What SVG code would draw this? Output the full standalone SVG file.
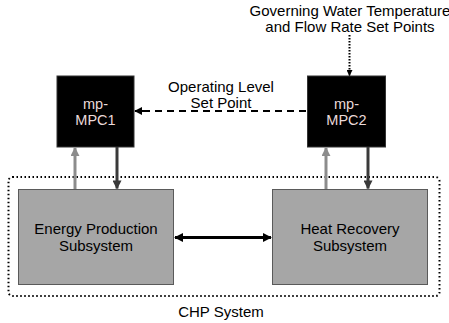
<svg xmlns="http://www.w3.org/2000/svg" width="449" height="323" viewBox="0 0 449 323">
  <style>
    text { font-family: "Liberation Sans", Arial, sans-serif; font-size: 15px; text-anchor: middle; }
    .lbl { fill: #000; }
    .ctl { fill: #000; stroke: #333; stroke-width: 1; }
    .ctl-text { fill: #eadada; font-size: 14.5px; }
    .sub { fill: #a6a6a6; stroke: #5a5a5a; stroke-width: 1; }
    .fb { stroke: #8c8c8c; stroke-width: 3; fill: none; }
    .act { stroke: #3a3a3a; stroke-width: 3; fill: none; }
  </style>
  <defs>
    <marker id="headGray" viewBox="0 0 10 10" refX="9" refY="5" markerWidth="3" markerHeight="3" orient="auto" markerUnits="strokeWidth">
      <path d="M0,0 L10,5 L0,10 Z" fill="#8c8c8c"/>
    </marker>
    <marker id="headDark" viewBox="0 0 10 10" refX="9" refY="5" markerWidth="3" markerHeight="3" orient="auto" markerUnits="strokeWidth">
      <path d="M0,0 L10,5 L0,10 Z" fill="#3a3a3a"/>
    </marker>
    <marker id="headBlack" viewBox="0 0 10 10" refX="9" refY="5" markerWidth="3.2" markerHeight="3" orient="auto-start-reverse" markerUnits="strokeWidth">
      <path d="M0,0 L10,5 L0,10 Z" fill="#000"/>
    </marker>
    <marker id="headSmall" viewBox="0 0 10 10" refX="9" refY="5" markerWidth="4" markerHeight="4" orient="auto" markerUnits="strokeWidth">
      <path d="M0,0 L10,5 L0,10 Z" fill="#000"/>
    </marker>
  </defs>

  <!-- CHP system boundary -->
  <g id="chp-system">
    <rect x="8.5" y="177" width="431" height="119" rx="4" fill="none" stroke="#000" stroke-width="2" stroke-dasharray="1.5 2.5"/>
    <text class="lbl" x="221" y="317">CHP System</text>
  </g>

  <!-- external set points -->
  <g id="setpoints">
    <text class="lbl" x="350" y="16">Governing Water Temperature</text>
    <text class="lbl" x="350" y="32">and Flow Rate Set Points</text>
  </g>

  <!-- controllers -->
  <g id="mpc1">
    <rect class="ctl" x="57" y="76" width="77" height="71"/>
    <text class="ctl-text" x="95.5" y="109">mp-</text>
    <text class="ctl-text" x="95.5" y="125">MPC1</text>
  </g>
  <g id="mpc2">
    <rect class="ctl" x="307.5" y="76" width="78" height="71"/>
    <text class="ctl-text" x="346.5" y="109">mp-</text>
    <text class="ctl-text" x="346.5" y="125">MPC2</text>
  </g>

  <!-- subsystems -->
  <g id="energy-production">
    <rect class="sub" x="18.5" y="189.5" width="155" height="95"/>
    <text class="lbl" x="96" y="234">Energy Production</text>
    <text class="lbl" x="96" y="251">Subsystem</text>
  </g>
  <g id="heat-recovery">
    <rect class="sub" x="272.5" y="189.5" width="155" height="95"/>
    <text class="lbl" x="350" y="234">Heat Recovery</text>
    <text class="lbl" x="350" y="251">Subsystem</text>
  </g>

  <!-- connectors -->
  <g id="connectors">
    <line class="fb" x1="75" y1="189" x2="75" y2="148" marker-end="url(#headGray)"/>
    <line class="act" x1="117" y1="147" x2="117" y2="188.5" marker-end="url(#headDark)"/>
    <line class="fb" x1="326" y1="189" x2="326" y2="148" marker-end="url(#headGray)"/>
    <line class="act" x1="368" y1="147" x2="368" y2="188.5" marker-end="url(#headDark)"/>
    <line x1="175" y1="237.5" x2="271" y2="237.5" stroke="#000" stroke-width="3" marker-start="url(#headBlack)" marker-end="url(#headBlack)"/>
    <line x1="306" y1="111" x2="141" y2="111" stroke="#000" stroke-width="2" stroke-dasharray="7 5"/>
    <line x1="143" y1="111" x2="135" y2="111" stroke="#000" stroke-width="2" marker-end="url(#headSmall)"/>
    <line x1="349.5" y1="35" x2="349.5" y2="70" stroke="#000" stroke-width="2" stroke-dasharray="1.5 1.5"/>
    <line x1="349.5" y1="70" x2="349.5" y2="75.5" stroke="#000" stroke-width="1.5" marker-end="url(#headSmall)"/>
  </g>

  <!-- dashed link label -->
  <g id="operating-level-label">
    <text class="lbl" x="221" y="92">Operating Level</text>
    <text class="lbl" x="221" y="108">Set Point</text>
  </g>
</svg>
